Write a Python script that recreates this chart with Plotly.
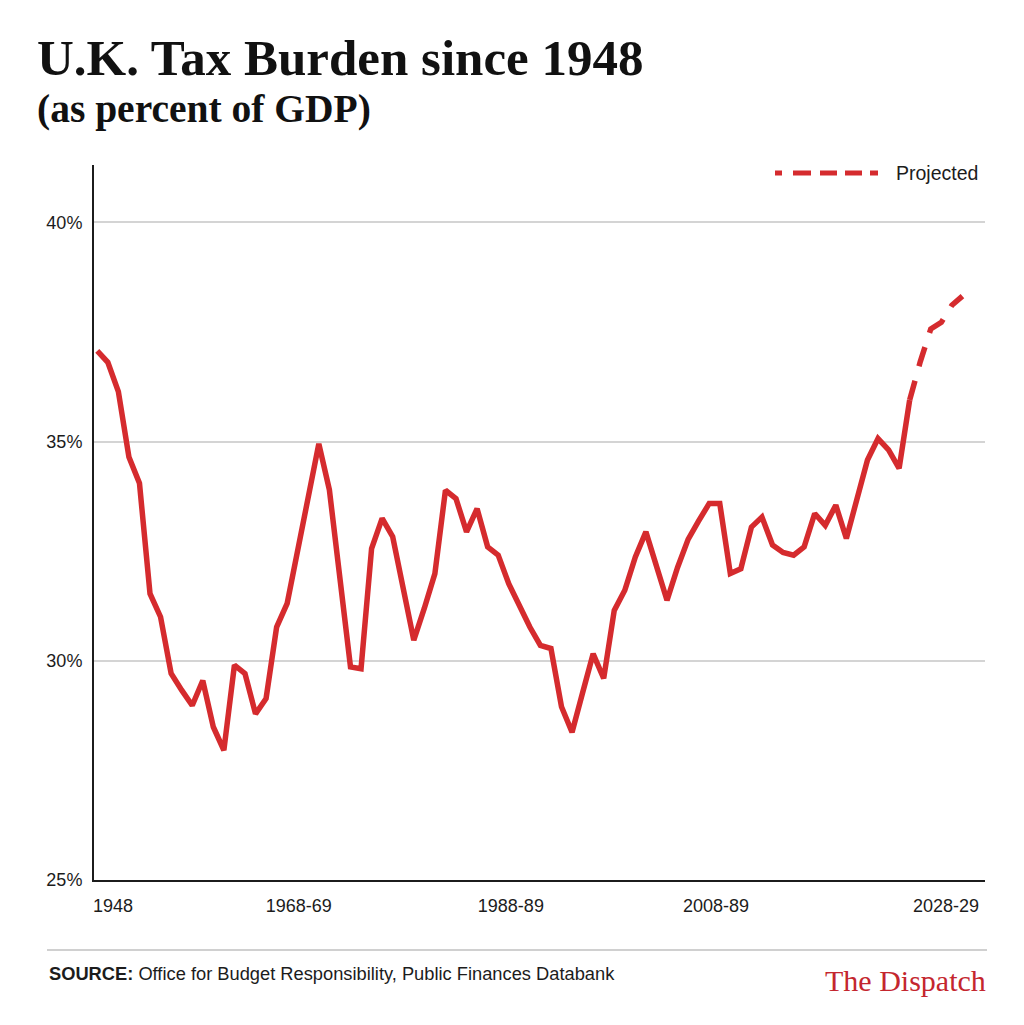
import plotly.graph_objects as go

# ---- data ----
years = list(range(1948, 2031))  # fiscal years starting 1948-49

actual_values = [
    37.07, 36.81, 36.14, 34.65, 34.05, 31.53, 31.00, 29.71, 29.33, 28.98,
    29.55, 28.49, 27.96, 29.90, 29.71, 28.79, 29.14, 30.77, 31.31, 32.52,
    33.73, 34.95, 33.90, 32.00, 29.86, 29.82, 32.56, 33.25, 32.83, 31.65,
    30.47, 31.20, 31.99, 33.89, 33.70, 32.94, 33.47, 32.60, 32.41, 31.76,
    31.23, 30.77, 30.35, 30.28, 28.95, 28.37, 29.27, 30.16, 29.60, 31.15,
    31.61, 32.37, 32.94, 32.16, 31.38, 32.13, 32.77, 33.19, 33.59, 33.59,
    31.99, 32.10, 33.05, 33.28, 32.64, 32.47, 32.41, 32.60, 33.36, 33.09,
    33.55, 32.79, 33.69, 34.58, 35.07, 34.81, 34.39, 35.95,
]
projected_values = [35.95, 36.82, 37.57, 37.72, 38.11, 38.32]

actual_years = years[:len(actual_values)]
projected_years = years[len(actual_values) - 1:]

y_tick_values = [25, 30, 35, 40]
y_tick_text = ["25%", "30%", "35%", "40%"]
x_tick_positions = [1949.5, 1967.1, 1987.2, 2006.65, 2028.45]
x_tick_text = ["1948", "1968-69", "1988-89", "2008-89", "2028-29"]

RED = "#D52B2E"
INK = "#1c1c1c"
SANS = "Liberation Sans, Arial, sans-serif"
SERIF = "Liberation Serif, Times New Roman, serif"

fig = go.Figure()
fig.add_trace(go.Scatter(
    x=actual_years, y=actual_values, mode="lines",
    line=dict(color=RED, width=5.5), name="Actual", showlegend=False,
    hoverinfo="skip",
))
fig.add_trace(go.Scatter(
    x=projected_years, y=projected_values, mode="lines",
    line=dict(color=RED, width=5.5, dash="20px,15px"), name="Projected",
    showlegend=False, hoverinfo="skip",
))

W, H = 1024, 1025
L, R, T, B = 94, 39, 165, 145
PW, PH = W - L - R, H - T - B


def px(xp):
    return (xp - L) / PW


def py(yp):
    return (H - B - yp) / PH


fig.update_layout(
    width=W, height=H,
    margin=dict(l=L, r=R, t=T, b=B, pad=0),
    paper_bgcolor="white", plot_bgcolor="white",
    font=dict(family=SANS, color=INK, size=18),
    xaxis=dict(
        range=[1947.69, 2032.14], showgrid=False, zeroline=False,
        showline=True, linecolor=INK, linewidth=2,
        tickvals=x_tick_positions, ticktext=x_tick_text,
        ticks="", tickfont=dict(family=SANS, size=18, color=INK),
        ticklabelstandoff=8,
    ),
    yaxis=dict(
        range=[25, 41.31], showgrid=True, gridcolor="#d4d4d4", gridwidth=2,
        zeroline=False, showline=True, linecolor=INK, linewidth=2,
        tickvals=y_tick_values, ticktext=y_tick_text,
        ticks="", tickfont=dict(family=SANS, size=18, color=INK),
        ticklabelstandoff=6,
    ),
    showlegend=False,
)

# legend sample for projected line
fig.add_shape(type="line", xref="paper", yref="paper",
              x0=px(775), x1=px(878), y0=py(173), y1=py(173),
              line=dict(color=RED, width=5,
                        dash="7px,11px,18px,9px,17px,8px,17px,8px,8px,100px"))
fig.add_annotation(xref="paper", yref="paper", x=px(894), y=py(173),
                   text="Projected", showarrow=False, xanchor="left",
                   yanchor="middle", font=dict(family=SANS, size=19.5, color=INK))

# title & subtitle
fig.add_annotation(xref="paper", yref="paper", x=px(35), y=py(58),
                   text="U.K. Tax Burden since 1948", showarrow=False,
                   xanchor="left", yanchor="middle",
                   font=dict(family=SERIF, size=51, color="#111111", weight=700))
fig.add_annotation(xref="paper", yref="paper", x=px(35), y=py(109),
                   text="(as percent of GDP)", showarrow=False,
                   xanchor="left", yanchor="middle",
                   font=dict(family=SERIF, size=39.5, color="#111111", weight=700))

# footer
fig.add_shape(type="line", xref="paper", yref="paper",
              x0=px(47), x1=px(987), y0=py(950), y1=py(950),
              line=dict(color="#d0d0d0", width=2))
fig.add_annotation(xref="paper", yref="paper", x=px(47), y=py(973),
                   text="<b>SOURCE:</b> Office for Budget Responsibility, Public Finances Databank",
                   showarrow=False, xanchor="left", yanchor="middle",
                   font=dict(family=SANS, size=18.3, color=INK))
fig.add_annotation(xref="paper", yref="paper", x=px(988), y=py(980),
                   text="The Dispatch", showarrow=False, xanchor="right",
                   yanchor="middle",
                   font=dict(family=SERIF, size=30, color="#C4262E"))

fig.write_html("out.html")
